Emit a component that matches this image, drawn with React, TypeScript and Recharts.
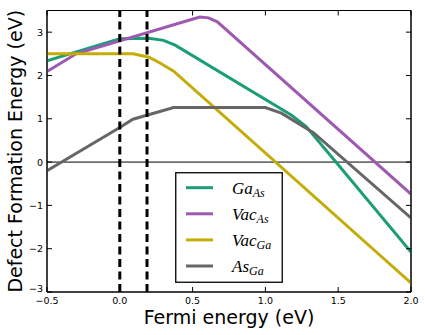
import React from 'react';
import { LineChart, Line, XAxis, YAxis, ReferenceLine, ReferenceArea, Legend } from 'recharts';

// Fermi energy (eV) sample points and formation energies (eV) per defect
const gaAsX = [-0.5, 0, 0.2, 0.3, 0.38, 1.18, 1.28, 1.5, 2.0];
const gaAsY = [2.34, 2.85, 2.86, 2.81, 2.7, 1.08, 0.82, -0.06, -2.08];

const vacAsX = [-0.5, -0.3, 0.48, 0.55, 0.61, 0.67, 2.0];
const vacAsY = [2.09, 2.5, 3.28, 3.35, 3.33, 3.24, -0.74];

const vacGaX = [-0.5, 0.09, 0.2, 0.27, 0.37, 2.0];
const vacGaY = [2.5, 2.5, 2.42, 2.3, 2.1, -2.79];

const asGaX = [-0.5, 0, 0.09, 0.37, 1.0, 1.11, 1.33, 2.0];
const asGaY = [-0.2, 0.8, 0.99, 1.26, 1.26, 1.13, 0.68, -1.29];

const legendMain = ['Ga', 'Vac', 'Vac', 'As'];
const legendSub = ['As', 'As', 'Ga', 'Ga'];
const colors = ['#1b9e77', '#9e5ab1', '#c4ad08', '#666666'];

const xTicks = [-0.5, 0, 0.5, 1.0, 1.5, 2.0];
const yTicks = [-3, -2, -1, 0, 1, 2, 3];
const xDomain = [-0.5, 2.0];
const yDomain = [-3, 3.5];
const bandEdges = [0, 0.187];

const toPts = (xs: number[], ys: number[]) => xs.map((x, i) => ({ x, y: ys[i] }));
const series = [
  toPts(gaAsX, gaAsY),
  toPts(vacAsX, vacAsY),
  toPts(vacGaX, vacGaY),
  toPts(asGaX, asGaY),
];

const fmtX = (v: number) => (v < 0 ? '\u2212' : '') + Math.abs(v).toFixed(1);
const fmtY = (v: number) => (v < 0 ? '\u2212' : '') + Math.abs(v).toFixed(0);

const tickStyle = { fontSize: 9.5, fill: '#000', fontFamily: 'DejaVu Sans' };
const labelFont = 'DejaVu Sans';

const YTick = (props: any) => {
  const { x, y, payload } = props;
  const lift = payload.value === yTicks[0] ? -4 : 0;
  return (
    <text
      x={x}
      y={y + lift}
      textAnchor="end"
      dominantBaseline="central"
      fontSize={9.5}
      fontFamily="DejaVu Sans"
      fill="#000"
    >
      {fmtY(payload.value)}
    </text>
  );
};

const NoTick = () => <g />;

const LegendBox = () => (
  <svg width={108} height={111} style={{ display: 'block' }}>
    <rect x={0.75} y={0.75} width={106.5} height={109.5} fill="#fff" stroke="#000" strokeWidth={1.3} />
    {legendMain.map((m, i) => {
      const cy = 15.7 + i * 26.1;
      return (
        <g key={i}>
          <line x1={11} x2={38} y1={cy} y2={cy} stroke={colors[i]} strokeWidth={3} />
          <text
            x={57}
            y={cy + 6}
            fontFamily="Liberation Serif"
            fontStyle="italic"
            fontSize={17}
            fill="#000"
          >
            {m}
            <tspan fontSize={12} dy={3}>
              {legendSub[i]}
            </tspan>
          </text>
        </g>
      );
    })}
  </svg>
);

export default function App() {
  return (
    <div style={{ position: 'absolute', left: 0, top: 0, fontFamily: 'DejaVu Sans' }}>
      <LineChart
        width={425}
        height={335}
        margin={{ top: 9.5, right: 13, bottom: 0, left: 0 }}
      >
        <XAxis
          dataKey="x"
          type="number"
          domain={xDomain}
          allowDataOverflow
          ticks={xTicks}
          tickFormatter={fmtX}
          height={43}
          tickSize={-5}
          tickMargin={10}
          tick={tickStyle}
          tickLine={{ stroke: '#000' }}
          axisLine={{ stroke: '#000' }}
          interval={0}
          label={{
            content: (props: any) => {
              const vb = props.viewBox || { x: 47, y: 292, width: 364 };
              return (
                <text
                  x={vb.x + vb.width / 2}
                  y={vb.y + 25}
                  textAnchor="middle"
                  dominantBaseline="central"
                  fontSize={19}
                  fontFamily={labelFont}
                  fill="#000"
                >
                  Fermi energy (eV)
                </text>
              );
            },
          }}
        />
        <XAxis
          xAxisId="top"
          orientation="top"
          dataKey="x"
          type="number"
          domain={xDomain}
          allowDataOverflow
          ticks={xTicks}
          height={1}
          tick={<NoTick />}
          tickSize={-5}
          tickLine={{ stroke: '#000' }}
          axisLine={{ stroke: '#000' }}
          interval={0}
        />
        <YAxis
          type="number"
          domain={yDomain}
          allowDataOverflow
          ticks={yTicks}
          width={47}
          tickSize={-5}
          tickMargin={9}
          tick={<YTick />}
          tickLine={{ stroke: '#000' }}
          axisLine={{ stroke: '#000' }}
          interval={0}
          label={{
            content: (props: any) => {
              const vb = props.viewBox || { x: 0, y: 10.5, height: 281.5 };
              const cx = vb.x + 15;
              const cy = vb.y + vb.height / 2;
              return (
                <text
                  x={cx}
                  y={cy}
                  transform={`rotate(-90 ${cx} ${cy})`}
                  textAnchor="middle"
                  dominantBaseline="central"
                  fontSize={19}
                  fontFamily={labelFont}
                  fill="#000"
                >
                  Defect Formation Energy (eV)
                </text>
              );
            },
          }}
        />
        <YAxis
          yAxisId="right"
          orientation="right"
          type="number"
          domain={yDomain}
          allowDataOverflow
          ticks={yTicks}
          width={1}
          tick={<NoTick />}
          tickSize={-5}
          tickLine={{ stroke: '#000' }}
          axisLine={{ stroke: '#000' }}
          interval={0}
        />
        <ReferenceArea
          x1={xDomain[0]}
          x2={xDomain[1]}
          y1={yDomain[0]}
          y2={yDomain[1]}
          fill="none"
          fillOpacity={0}
          stroke="#000"
          strokeWidth={1}
        />
        <ReferenceLine y={0} stroke="#000" strokeWidth={1} />
        {/* invisible series binding the top and right frame axes */}
        <Line
          data={series[0]}
          dataKey="y"
          xAxisId="top"
          yAxisId="right"
          stroke="none"
          dot={false}
          activeDot={false}
          legendType="none"
          isAnimationActive={false}
        />
        {series.map((d, i) => (
          <Line
            key={i}
            data={d}
            dataKey="y"
            type="linear"
            stroke={colors[i]}
            strokeWidth={3}
            dot={false}
            activeDot={false}
            isAnimationActive={false}
          />
        ))}
        {bandEdges.map((x) => (
          <ReferenceLine key={x} x={x} stroke="#000" strokeWidth={3} strokeDasharray="8 4.5" />
        ))}
        <Legend
          layout="vertical"
          align="center"
          verticalAlign="middle"
          wrapperStyle={{ left: 175, top: 172, width: 108, height: 111 }}
          content={() => <LegendBox />}
        />
      </LineChart>
    </div>
  );
}
